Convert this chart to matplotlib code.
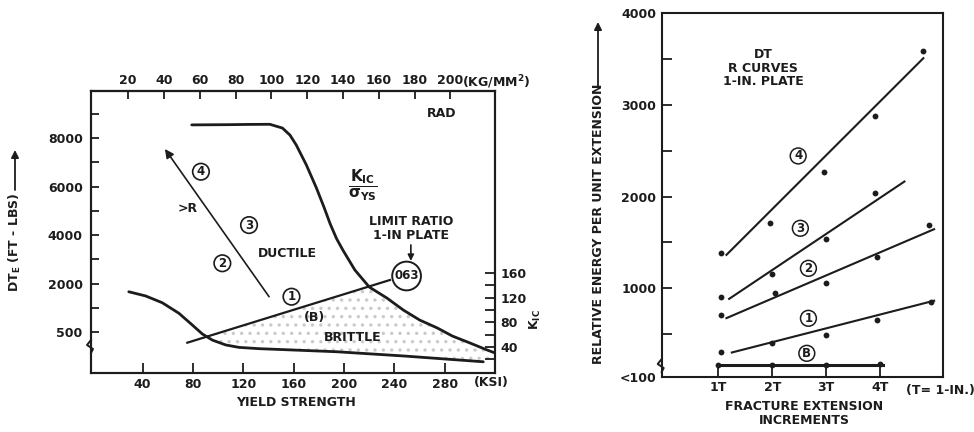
import numpy as np
import matplotlib
matplotlib.use("Agg")
import matplotlib.pyplot as plt

plt.rcParams['font.family'] = ['DejaVu Sans']
plt.rcParams['font.weight'] = 'bold'
plt.rcParams['mathtext.default'] = 'bf'
plt.rcParams['hatch.linewidth'] = 1.2

INK = '#1c1c1c'
FS = 9

# ---------------- left panel: DT energy vs yield strength ----------------
ksi_ticks = [40, 80, 120, 160, 200, 240, 280]
kg_ticks = [20, 40, 60, 80, 100, 120, 140, 160, 180, 200]
dt_ticks = [500, 2000, 4000, 6000, 8000]
dt_minor = [1250, 3000, 5000, 7000, 9000]
kic_ticks = [40, 80, 120, 160]
kic_minor = [20, 60, 100, 140]

# upper curve (K_IC / sigma_YS limit)
curve_a_ksi = [79, 109, 125, 141, 151, 157, 162, 170, 178, 184, 189, 194, 199, 208.5,
               220, 234, 247, 260, 274, 286, 300, 313.5, 322]
curve_a_dt = [8540, 8550, 8560, 8565, 8410, 8120, 7710, 6890, 5940, 5150, 4450, 3850, 3380, 2560,
              1890, 1550, 1180, 870, 625, 375, 160, -55, -180]
# lower brittle curve
curve_c_ksi = [29, 42.4, 55.6, 68.8, 79.5, 87.4, 95.4, 106, 116.5, 132.4, 145.7, 194, 247, 310.5]
curve_c_dt = [1745, 1615, 1405, 1080, 715, 440, 250, 100, 25, -15, -35, -110, -240, -420]
# line (B) up to the limit ratio
line_b_ksi = [75.5, 236.4]
line_b_dt = [170, 2145]


def fwd(v):
    # axis is broken below 2000: 500..2000 squeezed into one 2000 step
    v = np.asarray(v, dtype=float)
    return np.where(v >= 2000, v, (4 * v - 2000) / 3)


def inv(p):
    p = np.asarray(p, dtype=float)
    return np.where(p >= 2000, p, (3 * p + 2000) / 4)


# ---------------- right panel: R curves ----------------
t_ticks = [1, 2, 3, 4]
t_labels = ['1T', '2T', '3T', '4T']
e_ticks = [36, 1000, 2000, 3000, 4000]
e_labels = ['<100', '1000', '2000', '3000', '4000']
e_minor = [500, 1500, 2500, 3500]

r4_t = [1.05, 1.95, 2.95, 3.9, 4.8]
r4_e = [1380, 1715, 2270, 2880, 3590]
r4_fit_t = [1.15, 4.8]
r4_fit_e = [1365, 3510]

r3_t = [1.05, 2.0, 3.0, 3.9]
r3_e = [900, 1155, 1535, 2045]
r3_fit_t = [1.2, 4.45]
r3_fit_e = [885, 2165]

r2_t = [1.05, 2.05, 3.0, 3.95, 4.9]
r2_e = [710, 945, 1055, 1340, 1690]
r2_fit_t = [1.15, 5.0]
r2_fit_e = [675, 1645]

r1_t = [1.05, 2.0, 3.0, 3.95, 4.95]
r1_e = [310, 400, 490, 655, 855]
r1_fit_t = [1.25, 5.0]
r1_fit_e = [300, 865]

rb_t = [1.0, 2.0, 3.0, 4.0]
rb_e = [165, 165, 165, 170]
rb_fit_t = [1.0, 4.05]
rb_fit_e = [165, 165]

fig = plt.figure(figsize=(9.74, 4.32), dpi=100)

# =============== left ===============
ax = fig.add_axes([91 / 974, 1 - 372.7 / 432, 403.6 / 974, 282 / 432])
ax.set_yscale('function', functions=(fwd, inv))
ax.set_xlim(-1, 319.5)
ax.set_ylim(-758, 9950)

ax.plot(curve_a_ksi, curve_a_dt, color=INK, lw=2.0, solid_capstyle='round',
        solid_joinstyle='round')
ax.plot(curve_c_ksi, curve_c_dt, color=INK, lw=2.0, solid_capstyle='round',
        solid_joinstyle='round')
ax.plot(line_b_ksi, line_b_dt, color=INK, lw=1.6)

# stippled brittle zone
xs = np.linspace(75, 319.5, 500)
up = np.minimum(np.interp(xs, line_b_ksi, fwd(line_b_dt)),
                np.interp(xs, curve_a_ksi, fwd(curve_a_dt)))
lo = np.interp(xs, curve_c_ksi, fwd(curve_c_dt))
ax.fill_between(xs, inv(lo), inv(up), where=up > lo, interpolate=True,
                facecolor='none', edgecolor='#cacaca', hatch='..', linewidth=0)

ax.annotate('', xy=(57.7, 7546), xytext=(140.4, 1592),
            arrowprops=dict(arrowstyle='-|>', color=INK, lw=1.2, mutation_scale=13,
                            shrinkA=0, shrinkB=0))
ax.annotate('', xy=(253, 2930), xytext=(253, 3590),
            arrowprops=dict(arrowstyle='-|>', color=INK, lw=1.2, mutation_scale=9,
                            shrinkA=0, shrinkB=0))

circ = dict(boxstyle='circle,pad=0.15', fc='white', ec=INK, lw=1.2)
for s, x, y in [('4', 86.3, 6610), ('3', 124.5, 4410), ('2', 103.3, 2835), ('1', 158.2, 1592)]:
    ax.text(x, y, s, fontsize=8.5, ha='center', va='center', color=INK, bbox=circ)
ax.text(249.6, 2310, '063', fontsize=8.5, ha='center', va='center', color=INK, zorder=5,
        bbox=dict(boxstyle='circle,pad=0.18', fc='white', ec=INK, lw=1.4))

ax.text(75.5, 5100, '>R', fontsize=FS, ha='center', va='center', color=INK)
ax.text(154.8, 3245, 'DUCTILE', fontsize=FS, ha='center', va='center', color=INK)
ax.text(176.7, 955, '(B)', fontsize=FS, ha='center', va='center', color=INK)
ax.text(207.2, 336, 'BRITTLE', fontsize=FS, ha='center', va='center', color=INK)
ax.text(277.4, 9020, 'RAD', fontsize=FS, ha='center', va='center', color=INK)
ax.text(253, 4260, 'LIMIT RATIO\n1-IN PLATE', fontsize=FS, ha='center', va='center',
        color=INK, linespacing=1.1)
ax.text(215.1, 6060, r'$\dfrac{K_{IC}}{\sigma_{YS}}$', fontsize=11, ha='center', va='center',
        color=INK)

ax.set_xticks(ksi_ticks)
ax.set_yticks(dt_ticks)
ax.set_yticks(dt_minor, minor=True)
ax.yaxis.set_minor_formatter(plt.NullFormatter())
ax.tick_params(axis='x', direction='in', length=7, width=1.3, pad=4, labelsize=FS, colors=INK)
ax.tick_params(axis='y', which='both', direction='in', length=6, width=1.3, pad=6,
               labelsize=FS, colors=INK)
ax.text(0.993, -0.036, '(KSI)', transform=ax.transAxes, fontsize=FS, ha='center',
        va='center', color=INK)
ax.text(0.507, -0.107, 'YIELD STRENGTH', transform=ax.transAxes, fontsize=FS,
        ha='center', va='center', color=INK)

sec = ax.secondary_xaxis('top', functions=(lambda v: v / 1.4223, lambda v: v * 1.4223))
sec.set_xticks(kg_ticks)
sec.tick_params(direction='in', length=6, width=1.3, pad=3, labelsize=FS, colors=INK)
ax.text(0.918, 1.031, '(KG/MM$^{2}$)', transform=ax.transAxes, fontsize=FS,
        ha='left', va='center', color=INK)

ax2 = ax.twinx()
ax2.set_ylim(-1.6, 455)
ax2.set_yticks(kic_ticks)
ax2.set_yticks(kic_minor, minor=True)
ax2.yaxis.set_minor_formatter(plt.NullFormatter())
ax2.tick_params(axis='y', which='both', direction='in', length=7, width=1.3, pad=4,
                labelsize=FS, colors=INK)

for a in (ax, ax2):
    for sp in a.spines.values():
        sp.set_linewidth(1.5)
        sp.set_color(INK)
sec.spines['top'].set_linewidth(1.5)

# axis break on the left spine
w, h = 403.6, 282.0
ax.plot(np.array([0, -4, 2, 0]) / w, (372.7 - np.array([340, 345, 349, 353])) / h,
        color=INK, lw=1.4, transform=ax.transAxes, clip_on=False)

fig.text(15 / 974, 1 - 292 / 432, 'DT$_{E}$ (FT - LBS)', rotation=90, fontsize=FS,
         ha='center', va='bottom', color=INK)
plt.annotate('', xy=(15 / 974, 1 - 150 / 432), xytext=(15 / 974, 1 - 190 / 432),
             xycoords='figure fraction',
             arrowprops=dict(arrowstyle='-|>', color=INK, lw=1.3, mutation_scale=11,
                             shrinkA=0, shrinkB=0))
fig.text(535 / 974, 1 - 320 / 432, 'K$_{IC}$', rotation=90, fontsize=FS,
         ha='center', va='center', color=INK)

# =============== right ===============
bx = fig.add_axes([661.7 / 974, 1 - 376.7 / 432, 281.6 / 974, 363.4 / 432])
bx.set_xlim(-0.05, 5.17)
bx.set_ylim(36, 4000)

for t, e, ft, fe in [(r4_t, r4_e, r4_fit_t, r4_fit_e), (r3_t, r3_e, r3_fit_t, r3_fit_e),
                     (r2_t, r2_e, r2_fit_t, r2_fit_e), (r1_t, r1_e, r1_fit_t, r1_fit_e)]:
    bx.plot(ft, fe, color=INK, lw=1.5)
    bx.plot(t, e, 'o', color=INK, ms=4.2, mew=0)
bx.plot(rb_fit_t, rb_fit_e, color=INK, lw=2.2)
bx.plot(rb_t, rb_e, 'o', color=INK, ms=4.2, mew=0)

circ2 = dict(boxstyle='circle,pad=0.12', fc='white', ec=INK, lw=1.1)
for s, x, y in [('4', 2.48, 2444), ('3', 2.52, 1655), ('2', 2.67, 1218), ('1', 2.67, 673),
                ('B', 2.64, 291)]:
    bx.text(x, y, s, fontsize=8.5, ha='center', va='center', color=INK, bbox=circ2)

bx.text(1.83, 3400, 'DT\nR CURVES\n1-IN. PLATE', fontsize=FS, ha='center', va='center',
        color=INK, linespacing=1.05)

bx.set_xticks(t_ticks)
bx.set_xticklabels(t_labels)
bx.set_yticks(e_ticks)
bx.set_yticklabels(e_labels)
bx.set_yticks(e_minor, minor=True)
bx.yaxis.set_minor_formatter(plt.NullFormatter())
bx.tick_params(axis='x', direction='in', length=7, width=1.3, pad=3, labelsize=FS, colors=INK)
bx.tick_params(axis='y', which='both', direction='in', length=7, width=1.3, pad=4,
               labelsize=FS, colors=INK)
for sp in bx.spines.values():
    sp.set_linewidth(1.5)
    sp.set_color(INK)

bx.text(5.12, -0.02, '(T= 1-IN.)', transform=bx.get_xaxis_transform(), fontsize=FS,
        ha='center', va='top', color=INK)
bx.text(0.505, -0.1, 'FRACTURE EXTENSION\nINCREMENTS', transform=bx.transAxes,
        fontsize=FS, ha='center', va='center', color=INK, linespacing=1.1)

w2, h2 = 281.6, 363.4
bx.plot(np.array([0, -4, 2, 0]) / w2, (376.7 - np.array([359, 364, 368, 372])) / h2,
        color=INK, lw=1.4, transform=bx.transAxes, clip_on=False)

fig.text(598 / 974, 1 - 364 / 432, 'RELATIVE ENERGY PER UNIT EXTENSION', rotation=90,
         fontsize=FS, ha='center', va='bottom', color=INK)
plt.annotate('', xy=(598 / 974, 1 - 22 / 432), xytext=(598 / 974, 1 - 86 / 432),
             xycoords='figure fraction',
             arrowprops=dict(arrowstyle='-|>', color=INK, lw=1.3, mutation_scale=11,
                             shrinkA=0, shrinkB=0))

fig.savefig('out.png', dpi=100, facecolor='white')
